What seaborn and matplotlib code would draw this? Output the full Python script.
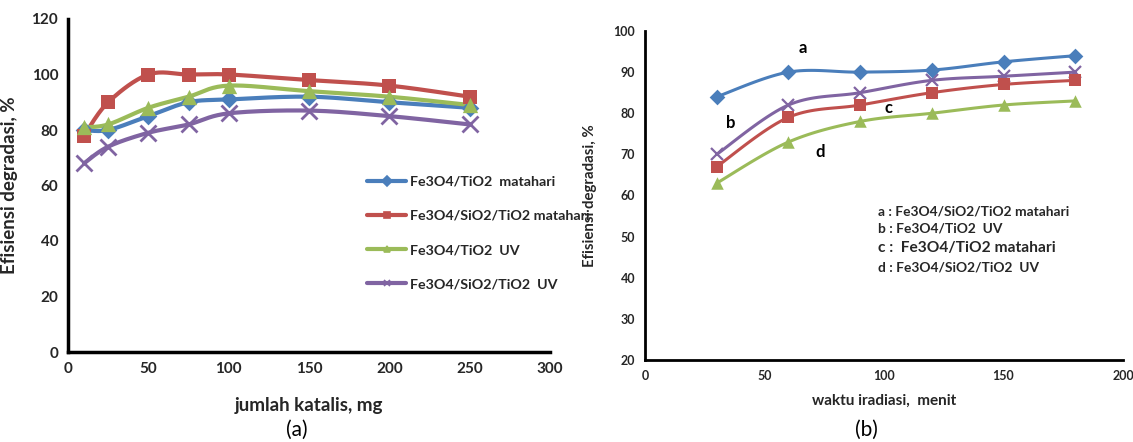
import numpy as np
import pandas as pd
import matplotlib
matplotlib.use("Agg")
import matplotlib.pyplot as plt
from matplotlib.lines import Line2D
import seaborn as sns

# ---------------- data (a) ----------------
katalis = [10, 25, 50, 75, 100, 150, 200, 250]
a_fe_tio2_sun = [80, 80, 85, 90, 91, 92, 90, 88]
a_fe_si_tio2_sun = [78, 90, 100, 100, 100, 98, 96, 92]
a_fe_tio2_uv = [81, 82, 88, 92, 96, 94, 92, 89]
a_fe_si_tio2_uv = [68, 74, 79, 82, 86, 87, 85, 82]
labels_a = ["Fe3O4/TiO2  matahari", "Fe3O4/SiO2/TiO2 matahari",
            "Fe3O4/TiO2  UV", "Fe3O4/SiO2/TiO2  UV"]
yticks_a = [0, 20, 40, 60, 80, 100, 120]
xticks_a = [0, 50, 100, 150, 200, 250, 300]

# ---------------- data (b) ----------------
waktu = [30, 60, 90, 120, 150, 180]
b_a = [84, 90, 90, 90.5, 92.5, 94]
b_b = [70, 82, 85, 88, 89, 90]
b_c = [67, 79, 82, 85, 87, 88]
b_d = [63, 73, 78, 80, 82, 83]
yticks_b = [20, 30, 40, 50, 60, 70, 80, 90, 100]
xticks_b = [0, 50, 100, 150, 200]
legend_b = ["a : Fe3O4/SiO2/TiO2 matahari", "b : Fe3O4/TiO2  UV",
            "c :  Fe3O4/TiO2 matahari", "d : Fe3O4/SiO2/TiO2  UV"]

BLUE, RED, GREEN, PURPLE = "#4A7EBB", "#C0504D", "#9BBB59", "#8064A2"
TXT = "#262626"

sns.set_theme(style="white")
plt.rcParams['font.family'] = ['Lato', 'DejaVu Sans']


def smooth(x, y, n=20):
    """Catmull-Rom style smoothing for rendering the connecting line."""
    x = np.asarray(x, float); y = np.asarray(y, float)
    P = np.column_stack([x, y])
    P = np.vstack([P[0], P, P[-1]])
    out = []
    for i in range(1, len(P) - 2):
        p0, p1, p2, p3 = P[i - 1], P[i], P[i + 1], P[i + 2]
        c1 = p1 + (p2 - p0) / 6.0
        c2 = p2 - (p3 - p1) / 6.0
        t = np.linspace(0, 1, n)[:, None]
        seg = ((1 - t) ** 3) * p1 + 3 * ((1 - t) ** 2) * t * c1 + 3 * (1 - t) * t ** 2 * c2 + t ** 3 * p2
        out.append(seg if i == 1 else seg[1:])
    s = np.vstack(out)
    return s[:, 0], s[:, 1]


W, H = 1133, 442
fig = plt.figure(figsize=(W / 100, H / 100), dpi=100)
axA = fig.add_axes([68 / W, 1 - 352 / H, 482 / W, 333 / H])
axB = fig.add_axes([645 / W, 1 - 360 / H, 478 / W, 329 / H])

# ---- panel a ----
series_a = [(a_fe_tio2_sun, BLUE, "D", 9), (a_fe_si_tio2_sun, RED, "s", 10),
            (a_fe_tio2_uv, GREEN, "^", 11), (a_fe_si_tio2_uv, PURPLE, "x", 11)]
handles = []
for (vals, col, mk, ms), lab in zip(series_a, labels_a):
    sx, sy = smooth(katalis, vals)
    sns.lineplot(x=sx, y=sy, ax=axA, color=col, lw=3, sort=False, estimator=None)
    df = pd.DataFrame({"x": katalis, "y": vals})
    if mk == "x":
        axA.plot(df.x, df.y, ls="none", marker="x", ms=ms, mew=2, color=col)
    else:
        sns.scatterplot(data=df, x="x", y="y", ax=axA, marker=mk, s=ms ** 2,
                        color=col, edgecolor=col, linewidth=0, zorder=3)
    handles.append(Line2D([], [], color=col, lw=3, marker=mk,
                          ms=5, mew=1.2))

axA.set_xlim(0, 300)
axA.set_ylim(0, 120)
axA.set_xticks(xticks_a)
axA.set_yticks(yticks_a)
for s in ["top", "right"]:
    axA.spines[s].set_visible(False)
for s in ["left", "bottom"]:
    axA.spines[s].set_color("black")
    axA.spines[s].set_linewidth(2.5)
axA.tick_params(axis="both", labelsize=11, colors=TXT, length=0, pad=7)
for lbl in axA.get_xticklabels() + axA.get_yticklabels():
    lbl.set_fontweight("bold")
axA.set_xlabel("jumlah katalis, mg", fontsize=13.5, fontweight="bold", color=TXT, labelpad=15)
axA.set_ylabel("Efisiensi degradasi, %", fontsize=13.5, fontweight="bold", color=TXT, labelpad=10)
leg = axA.legend(handles, labels_a, loc="center left",
                 bbox_to_anchor=((367 - 68) / 482, (352 - 233) / 333),
                 frameon=False, fontsize=10.3, labelspacing=1.55, handlelength=2.75,
                 handletextpad=0.25, borderpad=0, borderaxespad=0)
for t in leg.get_texts():
    t.set_fontweight("bold"); t.set_color(TXT)

# ---- panel b ----
series_b = [(b_a, BLUE, "D", 8), (b_b, PURPLE, "x", 9),
            (b_c, RED, "s", 9), (b_d, GREEN, "^", 9)]
for vals, col, mk, ms in series_b:
    sx, sy = smooth(waktu, vals)
    sns.lineplot(x=sx, y=sy, ax=axB, color=col, lw=2.2, sort=False, estimator=None)
    df = pd.DataFrame({"x": waktu, "y": vals})
    if mk == "x":
        axB.plot(df.x, df.y, ls="none", marker="x", ms=ms, mew=1.6, color=col)
    else:
        sns.scatterplot(data=df, x="x", y="y", ax=axB, marker=mk, s=ms ** 2,
                        color=col, edgecolor=col, linewidth=0, zorder=3)

axB.set_xlim(0, 200)
axB.set_ylim(20, 100)
axB.set_xticks(xticks_b)
axB.set_yticks(yticks_b)
for s in ["top", "right"]:
    axB.spines[s].set_visible(False)
for s in ["left", "bottom"]:
    axB.spines[s].set_color("black")
    axB.spines[s].set_linewidth(2)
axB.tick_params(axis="both", labelsize=9, colors=TXT, length=0, pad=7)
for lbl in axB.get_xticklabels() + axB.get_yticklabels():
    lbl.set_fontweight("bold")
axB.set_xlabel("waktu iradiasi,  menit", fontsize=11, fontweight="bold", color=TXT, labelpad=9)
axB.set_ylabel("Efisiensi degradasi, %", fontsize=10.8, fontweight="bold", color=TXT, labelpad=12)

for txt, x, y in [("a", 66, 95.9), ("b", 36, 77.6), ("c", 101.7, 81.2), ("d", 73.2, 70.5)]:
    axB.text(x, y, txt, fontsize=12, fontweight="bold", color="black",
             ha="center", va="center")

ys = [211, 228, 248, 267]
sizes = [9.9, 9.9, 11.2, 9.9]
for t, yp, fs in zip(legend_b, ys, sizes):
    fig.text(878 / W, 1 - yp / H, t, fontsize=fs, fontweight="bold",
             color=TXT, ha="left", va="center")

fig.text(297 / W, 1 - 430 / H, "(a)", fontsize=15, color="black", ha="center", va="center")
fig.text(866 / W, 1 - 430 / H, "(b)", fontsize=15, color="black", ha="center", va="center")

fig.savefig("out.png", dpi=100)
